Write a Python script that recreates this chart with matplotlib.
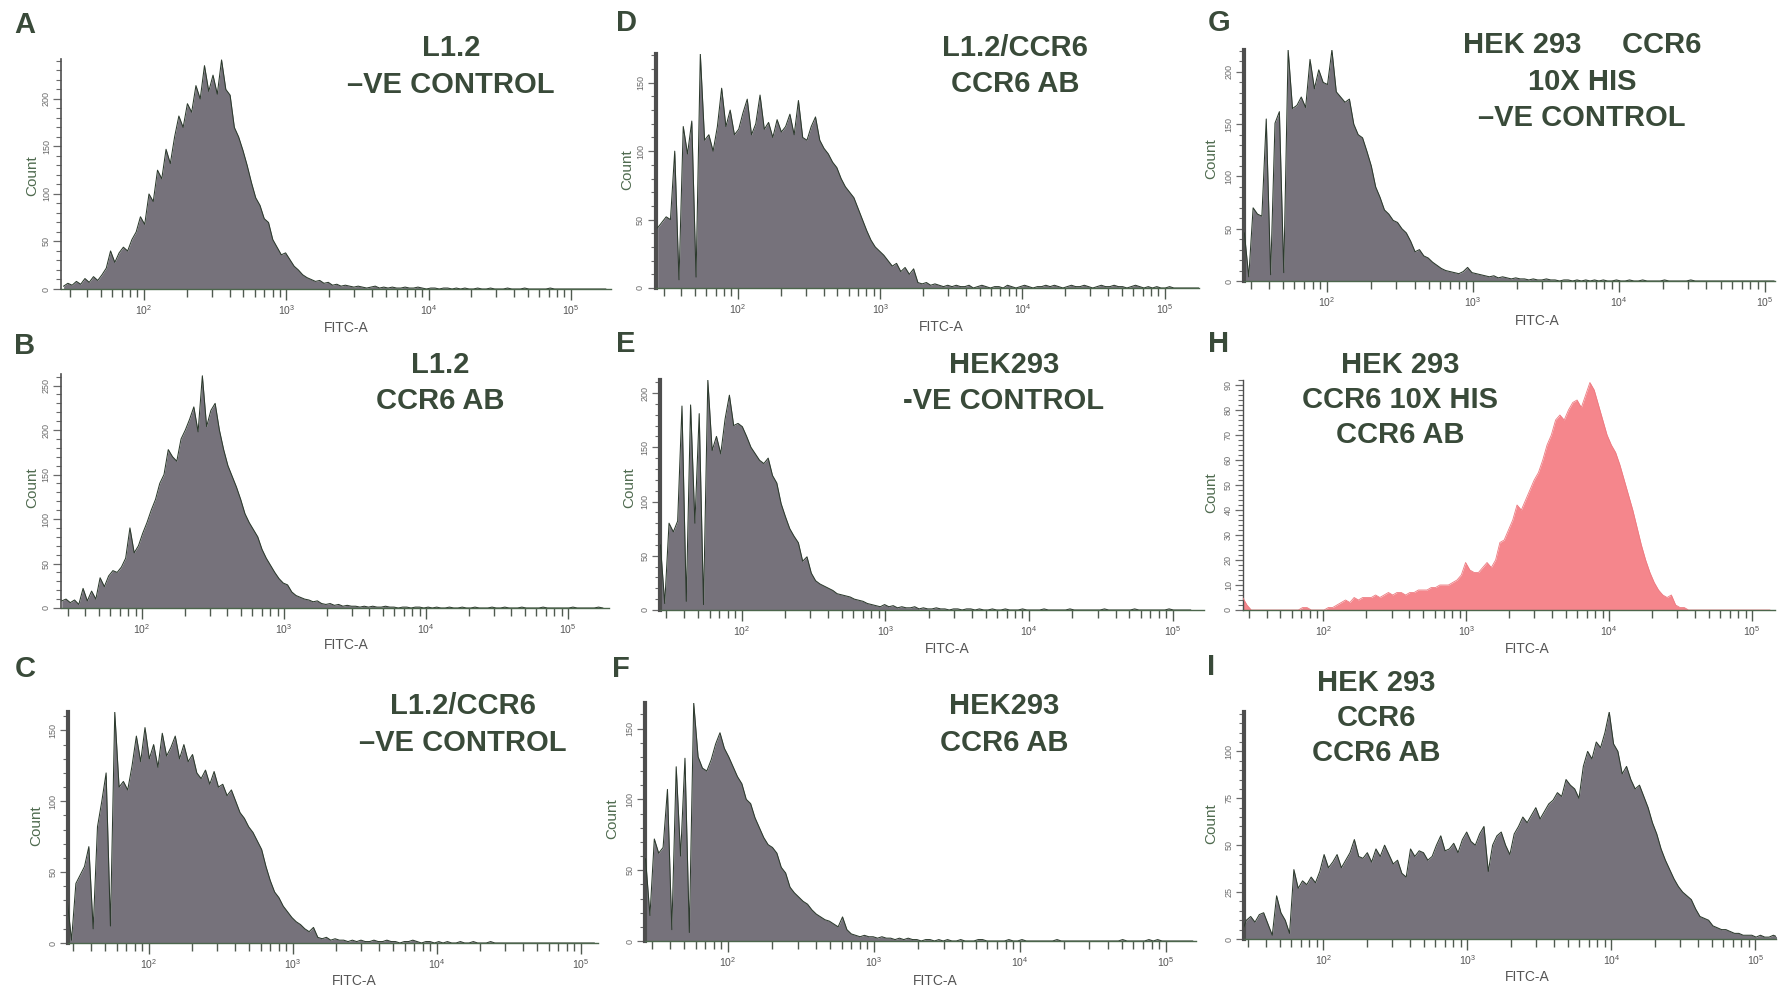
import numpy as np
import matplotlib
matplotlib.use("Agg")
import matplotlib.pyplot as plt
from matplotlib.ticker import FixedLocator, FixedFormatter, NullFormatter

plt.rcParams["font.family"] = ["Liberation Sans", "DejaVu Sans"]
plt.rcParams["mathtext.default"] = "regular"

FIG_W, FIG_H = 1778, 989
LOG_START = 1.42   # log10 of the lower edge of the first FITC-A channel
BIN_W = 0.03       # channel width in decades

# ---------------------------------------------------------------- counts
counts_a = [
    3, 6, 4, 8, 5, 11, 7, 13, 9, 15,
    22, 40, 28, 38, 44, 40, 52, 60, 76, 68,
    100, 92, 125, 116, 147, 132, 160, 182, 170, 195,
    186, 214, 200, 235, 208, 225, 205, 241, 210, 204,
    170, 160, 146, 130, 112, 96, 88, 74, 70, 52,
    44, 36, 38, 31, 24, 20, 15, 12, 10, 8,
    9, 6, 7, 4, 5, 3, 4, 3, 2, 3,
    2, 1, 2, 3, 1, 2, 1, 2, 1, 1,
    2, 1, 1, 2, 1, 0, 1, 1, 0, 1,
    1, 0, 1, 0, 1, 0, 0, 1, 0, 0,
    1, 0, 0, 0, 1, 0, 0, 0, 1, 0,
    0, 0, 0, 0, 1, 0, 0, 0, 0, 0,
    0, 0, 0, 0, 0, 0, 0, 0,
]
counts_b = [
    8, 10, 6, 9, 4, 22, 8, 19, 10, 34,
    24, 36, 42, 40, 46, 56, 90, 62, 70, 84,
    96, 110, 122, 140, 150, 178, 170, 165, 190, 200,
    212, 226, 198, 261, 204, 222, 230, 200, 178, 160,
    148, 136, 122, 106, 96, 88, 80, 66, 56, 48,
    40, 33, 28, 26, 18, 14, 12, 10, 9, 7,
    8, 5, 4, 5, 3, 4, 2, 3, 2, 2,
    1, 2, 1, 2, 1, 1, 2, 1, 1, 0,
    1, 1, 0, 1, 1, 0, 1, 0, 1, 0,
    0, 1, 0, 0, 1, 0, 0, 1, 0, 0,
    0, 1, 0, 0, 1, 0, 0, 0, 1, 0,
    0, 0, 0, 1, 0, 0, 0, 0, 0, 0,
    1, 0, 0, 0, 0, 0, 1, 0,
]
counts_c = [
    30, 2, 42, 48, 54, 68, 10, 82, 100, 120,
    12, 163, 110, 114, 108, 125, 146, 128, 152, 130,
    140, 124, 148, 132, 138, 146, 130, 140, 128, 133,
    120, 116, 122, 112, 121, 110, 112, 104, 108, 100,
    92, 88, 82, 78, 72, 66, 54, 44, 36, 32,
    26, 22, 18, 15, 13, 10, 8, 11, 4, 3,
    4, 2, 3, 2, 2, 1, 2, 1, 2, 1,
    1, 2, 1, 1, 2, 1, 1, 0, 1, 1,
    2, 1, 0, 1, 1, 0, 1, 0, 1, 0,
    0, 1, 0, 0, 1, 0, 0, 0, 1, 0,
    0, 0, 0, 0, 0, 0, 0, 0, 0, 0,
    0, 0, 0, 0, 0, 0, 0, 0, 0, 0,
    0, 0, 0,
]
counts_d = [
    44, 48, 52, 50, 100, 6, 118, 98, 122, 8,
    171, 108, 112, 100, 118, 146, 118, 130, 112, 116,
    128, 138, 112, 120, 141, 116, 121, 110, 123, 114,
    118, 127, 112, 137, 110, 108, 118, 125, 108, 102,
    98, 92, 88, 80, 74, 70, 66, 58, 50, 42,
    35, 30, 27, 24, 20, 16, 18, 12, 15, 10,
    14, 4, 3, 4, 2, 3, 2, 1, 2, 1,
    2, 1, 1, 2, 0, 1, 2, 1, 0, 1,
    1, 0, 2, 1, 0, 1, 2, 1, 0, 1,
    1, 2, 1, 2, 1, 0, 1, 2, 1, 1,
    2, 1, 0, 1, 2, 1, 1, 2, 1, 1,
    0, 1, 2, 1, 0, 1, 0, 1, 0, 0,
    1, 0, 0, 0, 0, 0, 0, 0,
]
counts_e = [
    60, 6, 80, 72, 82, 188, 8, 189, 80, 181,
    5, 212, 147, 160, 144, 176, 198, 170, 172, 169,
    160, 150, 144, 138, 135, 140, 124, 117, 98, 86,
    75, 68, 62, 45, 49, 34, 27, 24, 22, 20,
    18, 15, 14, 13, 12, 10, 9, 8, 6, 5,
    4, 3, 5, 3, 4, 2, 3, 2, 2, 3,
    1, 2, 1, 1, 2, 1, 1, 0, 1, 1,
    0, 1, 1, 0, 1, 0, 0, 1, 0, 0,
    1, 0, 0, 0, 1, 0, 0, 0, 0, 1,
    0, 0, 0, 0, 0, 1, 0, 0, 0, 0,
    0, 0, 0, 1, 0, 0, 0, 0, 0, 0,
    1, 0, 0, 0, 0, 0, 0, 0, 1, 0,
    0, 0, 0, 0,
]
counts_f = [
    58, 18, 72, 62, 66, 107, 8, 123, 60, 129,
    6, 168, 130, 122, 120, 128, 139, 147, 136, 130,
    123, 116, 111, 100, 97, 87, 80, 73, 68, 66,
    62, 52, 48, 38, 34, 31, 28, 26, 22, 19,
    17, 15, 14, 12, 10, 17, 8, 5, 4, 3,
    4, 3, 3, 2, 3, 2, 2, 1, 2, 1,
    2, 1, 1, 0, 1, 1, 0, 1, 0, 1,
    0, 0, 1, 0, 0, 0, 1, 1, 0, 0,
    0, 0, 0, 1, 0, 0, 1, 0, 0, 0,
    0, 0, 0, 0, 1, 0, 0, 0, 0, 0,
    0, 0, 0, 0, 0, 0, 0, 0, 0, 1,
    0, 0, 0, 0, 0, 1, 0, 1, 0, 0,
    0, 0, 0, 0, 0, 0,
]
counts_g = [
    46, 4, 70, 64, 62, 155, 6, 151, 162, 8,
    221, 165, 168, 176, 166, 212, 184, 202, 190, 188,
    221, 181, 176, 171, 174, 150, 140, 137, 124, 110,
    90, 80, 68, 64, 58, 56, 50, 46, 38, 28,
    30, 24, 22, 18, 15, 12, 10, 9, 8, 7,
    9, 13, 8, 7, 6, 5, 4, 5, 3, 4,
    3, 2, 3, 2, 2, 1, 2, 1, 1, 2,
    1, 1, 0, 1, 1, 0, 1, 0, 1, 0,
    1, 0, 1, 0, 0, 1, 0, 0, 1, 0,
    0, 1, 0, 0, 0, 0, 1, 0, 0, 0,
    0, 0, 1, 0, 0, 0, 0, 0, 0, 0,
    0, 0, 0, 0, 0, 0, 0, 0, 0, 0,
    0, 0,
]
counts_h = [
    5, 2, 0, 0, 0, 0, 0, 0, 0, 0,
    0, 0, 0, 0, 1, 1, 0, 0, 0, 0,
    1, 1, 2, 3, 4, 3, 5, 4, 5, 5,
    5, 6, 5, 6, 7, 6, 7, 7, 6, 7,
    7, 8, 8, 8, 9, 9, 10, 10, 10, 11,
    12, 14, 19, 16, 15, 15, 17, 19, 17, 20,
    27, 28, 32, 36, 42, 40, 44, 48, 52, 55,
    60, 66, 70, 76, 78, 76, 80, 83, 84, 81,
    86, 91, 88, 82, 76, 70, 66, 63, 58, 52,
    46, 40, 33, 26, 20, 15, 11, 8, 6, 5,
    6, 2, 1, 1, 0, 0, 0, 0, 0, 0,
    0, 0, 0, 0, 0, 0, 0, 0, 0, 0,
    0, 0, 0, 0,
]
counts_i = [
    4, 10, 12, 9, 13, 14, 8, 2, 23, 14,
    10, 3, 37, 27, 31, 29, 33, 30, 36, 45,
    38, 41, 45, 38, 42, 46, 53, 44, 43, 46,
    41, 48, 44, 50, 45, 40, 42, 35, 33, 48,
    44, 47, 46, 42, 44, 50, 55, 47, 48, 51,
    46, 53, 57, 52, 50, 56, 60, 36, 50, 55,
    57, 50, 45, 56, 60, 65, 62, 66, 70, 64,
    68, 72, 74, 78, 76, 85, 82, 80, 75, 92,
    100, 96, 105, 102, 110, 121, 104, 100, 88, 92,
    85, 80, 82, 76, 70, 62, 56, 48, 42, 37,
    32, 28, 25, 23, 21, 16, 12, 11, 10, 7,
    6, 5, 5, 4, 3, 3, 2, 2, 2, 1,
    2, 1, 1, 2, 1, 1, 1, 1,
]

panel_letters = ["A", "B", "C", "D", "E", "F", "G", "H", "I"]
panel_titles = [
    ["L1.2", "\u2013VE CONTROL"],
    ["L1.2", "CCR6 AB"],
    ["L1.2/CCR6", "\u2013VE CONTROL"],
    ["L1.2/CCR6", "CCR6 AB"],
    ["HEK293", "-VE CONTROL"],
    ["HEK293", "CCR6 AB"],
    ["HEK 293     CCR6", "10X HIS", "\u2013VE CONTROL"],
    ["HEK 293", "CCR6 10X HIS", "CCR6 AB"],
    ["HEK 293", "CCR6", "CCR6 AB"],
]
panel_counts = [counts_a, counts_b, counts_c, counts_d, counts_e,
                counts_f, counts_g, counts_h, counts_i]
y_max = [242, 263, 163, 171, 212, 168, 221, 92, 121]
y_major = [50, 50, 50, 50, 50, 50, 50, 10, 25]
y_minor = [10, 10, 10, 10, 10, 10, 10, 2, 5]
decade_labels = [r"$10^{2}$", r"$10^{3}$", r"$10^{4}$", r"$10^{5}$"]

# ---------------------------------------------------------------- layout (pixels)
# p2: x of 10^2, dec: pixels per decade, lo/hi: log10 extent, base/top: y of 0 and y_max
layout = [
    dict(p2=144, dec=142.3, lo=1.42, hi=5.28, base=289, top=59),
    dict(p2=142, dec=142.0, lo=1.43, hi=5.29, base=608, top=374),
    dict(p2=148.6, dec=144.0, lo=1.44, hi=5.12, base=943, top=712),
    dict(p2=738, dec=142.2, lo=1.42, hi=5.24, base=288, top=54),
    dict(p2=741.6, dec=143.7, lo=1.43, hi=5.22, base=610, top=380),
    dict(p2=728, dec=145.9, lo=1.43, hi=5.21, base=941, top=703),
    dict(p2=1326.8, dec=145.9, lo=1.43, hi=5.07, base=281, top=50),
    dict(p2=1323.4, dec=142.9, lo=1.44, hi=5.16, base=610, top=380),
    dict(p2=1323.4, dec=144.0, lo=1.45, hi=5.14, base=939, top=712),
]
letter_xy = [(25, 25), (25, 346), (25, 669), (626, 23), (626, 344), (621, 669),
             (1219, 23), (1219, 344), (1211, 667)]
title_xy = [
    [(451, 48), (451, 85)],
    [(440, 365), (440, 401)],
    [(463, 706), (463, 743)],
    [(1015, 48), (1015, 84)],
    [(1004, 365), (1004, 401)],
    [(1004, 706), (1004, 743)],
    [(1582, 45), (1582, 82), (1582, 118)],
    [(1400, 365), (1400, 400), (1400, 435)],
    [(1376, 683), (1376, 718), (1376, 753)],
]
count_xy = [(32, 176), (32, 488), (36, 826), (627, 170), (629, 488), (612, 819),
            (1211, 159), (1211, 493), (1211, 824)]
fitc_xy = [(346, 328), (346, 645), (354, 981), (941, 327), (947, 649), (935, 981),
           (1537, 321), (1527, 649), (1527, 977)]
left_spine_w = [1.2, 1.2, 3.0, 3.0, 3.0, 3.0, 3.0, 1.0, 3.0]

FILL_GREY = "#76727b"
EDGE_DARK = "#2c3a2d"
FILL_PINK = "#f5868c"
TEXT_GREEN = "#394a39"
AXIS_GREY = "#505a50"

fig = plt.figure(figsize=(FIG_W / 100, FIG_H / 100), dpi=100)
fig.patch.set_facecolor("white")


def ftext(xy, s, **kw):
    fig.text(xy[0] / FIG_W, 1 - xy[1] / FIG_H, s, ha="center", va="center", **kw)


for k in range(9):
    lay = layout[k]
    x0 = lay["p2"] - (2 - lay["lo"]) * lay["dec"]
    x1 = lay["p2"] + (lay["hi"] - 2) * lay["dec"]
    ax = fig.add_axes([x0 / FIG_W, 1 - lay["base"] / FIG_H,
                       (x1 - x0) / FIG_W, (lay["base"] - lay["top"]) / FIG_H])
    ax.set_facecolor("none")
    ax.set_xscale("log")
    ax.set_xlim(10 ** lay["lo"], 10 ** lay["hi"])
    ax.set_ylim(0, y_max[k])

    c = np.asarray(panel_counts[k], dtype=float)
    xs = 10 ** (LOG_START + BIN_W * (np.arange(len(c)) + 0.5))
    if k == 7:
        ax.fill_between(xs, c, 0, color=FILL_PINK, lw=0, zorder=2)
        ax.plot(xs, c, color="#ec7a80", lw=0.6, zorder=3)
    else:
        ax.fill_between(xs, c, 0, color=FILL_GREY, lw=0, zorder=2)
        ax.plot(xs, c, color=EDGE_DARK, lw=0.75, zorder=3)

    # spines
    for side in ("top", "right"):
        ax.spines[side].set_visible(False)
    ax.spines["bottom"].set_color("#4c664c")
    ax.spines["bottom"].set_linewidth(1.0)
    ax.spines["left"].set_color("#4e4e4e")
    ax.spines["left"].set_linewidth(left_spine_w[k])
    ax.spines["bottom"].set_zorder(4)

    # x axis: decades with minor ticks at 2..9
    ax.xaxis.set_major_locator(FixedLocator([1e2, 1e3, 1e4, 1e5]))
    ax.xaxis.set_major_formatter(FixedFormatter(decade_labels))
    minors = [m * 10 ** d for d in range(1, 5) for m in range(2, 10)
              if lay["lo"] < np.log10(m * 10 ** d) < lay["hi"]]
    ax.xaxis.set_minor_locator(FixedLocator(minors))
    ax.xaxis.set_minor_formatter(NullFormatter())
    ax.tick_params(axis="x", which="major", direction="out", length=8, width=1.0,
                   color=AXIS_GREY, labelsize=7.5, labelcolor="#555555", pad=2)
    ax.tick_params(axis="x", which="minor", direction="out", length=6, width=1.0,
                   color=AXIS_GREY)

    # y axis: rotated count labels
    ax.yaxis.set_major_locator(FixedLocator(np.arange(0, y_max[k] + 0.1, y_major[k])))
    ax.yaxis.set_minor_locator(FixedLocator(np.arange(0, y_max[k] + 0.1, y_minor[k])))
    ax.yaxis.set_minor_formatter(NullFormatter())
    ax.tick_params(axis="y", which="major", direction="out", length=6, width=0.9,
                   color="#6a6a6a", labelsize=6.5, labelcolor="#6a6a6a", pad=1.5,
                   labelrotation=90)
    ax.tick_params(axis="y", which="minor", direction="out", length=3.5, width=0.8,
                   color="#6a6a6a")
    plt.setp(ax.get_yticklabels(), va="center")

    # panel texts
    ftext(letter_xy[k], panel_letters[k], fontsize=21, fontweight="bold", color=TEXT_GREEN)
    for line, xy in zip(panel_titles[k], title_xy[k]):
        ftext(xy, line, fontsize=21, fontweight="bold", color=TEXT_GREEN)
    ftext(count_xy[k], "Count", fontsize=11, rotation=90, color="#4f6b4f")
    ftext(fitc_xy[k], "FITC-A", fontsize=10, color="#555555")

fig.savefig("out.png", dpi=100, facecolor="white")
